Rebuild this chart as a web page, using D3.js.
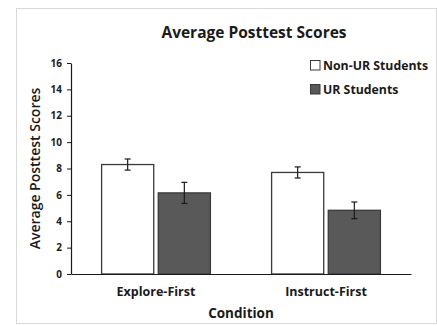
<!DOCTYPE html>
<html>
<head>
<meta charset="utf-8">
<script src="https://cdn.jsdelivr.net/npm/d3@7"></script>
<style>
  body { margin: 0; background: #fff; }
  text { font-family: "Open Sans", "Liberation Sans", sans-serif; fill: #1a1a1a; }
</style>
</head>
<body>
<div id="chart"></div>
<script>
// data
const conditions = ['Explore-First', 'Instruct-First'];
const groups = ['Non-UR Students', 'UR Students'];
const nonUrMeans = [8.3, 7.7];
const nonUrErrors = [0.42, 0.42];
const urMeans = [6.15, 4.83];
const urErrors = [0.8, 0.63];
const yTicks = [0, 2, 4, 6, 8, 10, 12, 14, 16];

const colors = {'Non-UR Students': '#ffffff', 'UR Students': '#595959'};

const rows = [];
conditions.forEach((c, i) => {
  rows.push({condition: c, group: groups[0], mean: nonUrMeans[i], err: nonUrErrors[i]});
  rows.push({condition: c, group: groups[1], mean: urMeans[i], err: urErrors[i]});
});

const W = 437;
const H = 326;
const margin = {top: 63, right: 26, bottom: 52, left: 71};
const width = W - margin.left - margin.right;
const height = H - margin.top - margin.bottom;

const root = d3.select('#chart')
    .append('svg')
    .attr('width', W)
    .attr('height', H);

// outer frame
root.append('rect')
    .attr('x', 16.5)
    .attr('y', 8.5)
    .attr('width', W - 17)
    .attr('height', H - 11)
    .attr('fill', '#fff')
    .attr('stroke', '#d9d9d9');

root.append('text')
    .attr('x', 254)
    .attr('y', 38)
    .attr('text-anchor', 'middle')
    .style('font-size', '15.5px')
    .style('font-weight', 'bold')
    .text('Average Posttest Scores');

const svg = root.append('g')
    .attr('transform', 'translate(' + margin.left + ',' + margin.top + ')');

const x0 = d3.scaleBand()
    .domain(conditions)
    .range([0, width])
    .paddingInner(0.36)
    .paddingOuter(0.18);

const x1 = d3.scaleBand()
    .domain(groups)
    .range([0, x0.bandwidth()])
    .paddingInner(0.08);

const y = d3.scaleLinear()
    .domain([0, 16])
    .range([height, 0]);

// bars
svg.selectAll('.bar')
    .data(rows)
    .enter()
    .append('rect')
    .attr('class', 'bar')
    .attr('x', (d) => x0(d.condition) + x1(d.group))
    .attr('y', (d) => y(d.mean))
    .attr('width', x1.bandwidth())
    .attr('height', (d) => height - y(d.mean))
    .attr('fill', (d) => colors[d.group])
    .attr('stroke', '#3a3a3a')
    .attr('stroke-width', 1.3);

// error bars
const eb = svg.selectAll('.err')
    .data(rows)
    .enter()
    .append('g')
    .attr('class', 'err')
    .attr('stroke', '#1a1a1a')
    .attr('stroke-width', 1.2);
const cx = (d) => x0(d.condition) + x1(d.group) + x1.bandwidth() / 2;
eb.append('line')
    .attr('x1', cx).attr('x2', cx)
    .attr('y1', (d) => y(d.mean + d.err))
    .attr('y2', (d) => y(d.mean - d.err));
eb.append('line')
    .attr('x1', (d) => cx(d) - 3).attr('x2', (d) => cx(d) + 3)
    .attr('y1', (d) => y(d.mean + d.err))
    .attr('y2', (d) => y(d.mean + d.err));
eb.append('line')
    .attr('x1', (d) => cx(d) - 3).attr('x2', (d) => cx(d) + 3)
    .attr('y1', (d) => y(d.mean - d.err))
    .attr('y2', (d) => y(d.mean - d.err));

// Y axis
const yAxis = svg.append('g')
    .call(d3.axisLeft(y).tickValues(yTicks).tickSize(4).tickSizeOuter(0).tickPadding(5));
yAxis.select('.domain').attr('stroke', '#1a1a1a').attr('stroke-width', 1.2);
yAxis.selectAll('.tick line').attr('stroke', '#1a1a1a');
yAxis.selectAll('.tick text')
    .style('font-size', '10px')
    .style('font-weight', 'bold')
    .attr('fill', '#1a1a1a');

// X axis
const xAxis = svg.append('g')
    .attr('transform', 'translate(0,' + height + ')')
    .call(d3.axisBottom(x0).tickSize(0).tickPadding(13));
xAxis.select('.domain').attr('stroke', '#1a1a1a').attr('stroke-width', 1.2);
xAxis.selectAll('.tick text')
    .style('font-size', '12.5px')
    .style('font-weight', 'bold')
    .attr('fill', '#1a1a1a');

svg.append('text')
    .attr('x', width / 2)
    .attr('y', height + 44)
    .attr('text-anchor', 'middle')
    .style('font-size', '13.5px')
    .style('font-weight', 'bold')
    .text('Condition');

svg.append('text')
    .attr('transform', 'translate(' + (-31) + ',' + (height / 2) + ') rotate(-90)')
    .attr('text-anchor', 'middle')
    .style('font-size', '14px')
    .style('font-weight', '600')
    .text('Average Posttest Scores');

// legend
const legend = root.append('g')
    .attr('transform', 'translate(310,60)');
groups.forEach((g, i) => {
  const row = legend.append('g').attr('transform', 'translate(0,' + (i * 24) + ')');
  row.append('rect')
      .attr('x', 0.5).attr('y', 0.5)
      .attr('width', 9.5).attr('height', 9.5)
      .attr('fill', colors[g])
      .attr('stroke', '#3a3a3a');
  row.append('text')
      .attr('x', 13)
      .attr('y', 10)
      .style('font-size', '12.3px')
      .style('font-weight', 'bold')
      .text(g);
});
</script>
</body>
</html>
